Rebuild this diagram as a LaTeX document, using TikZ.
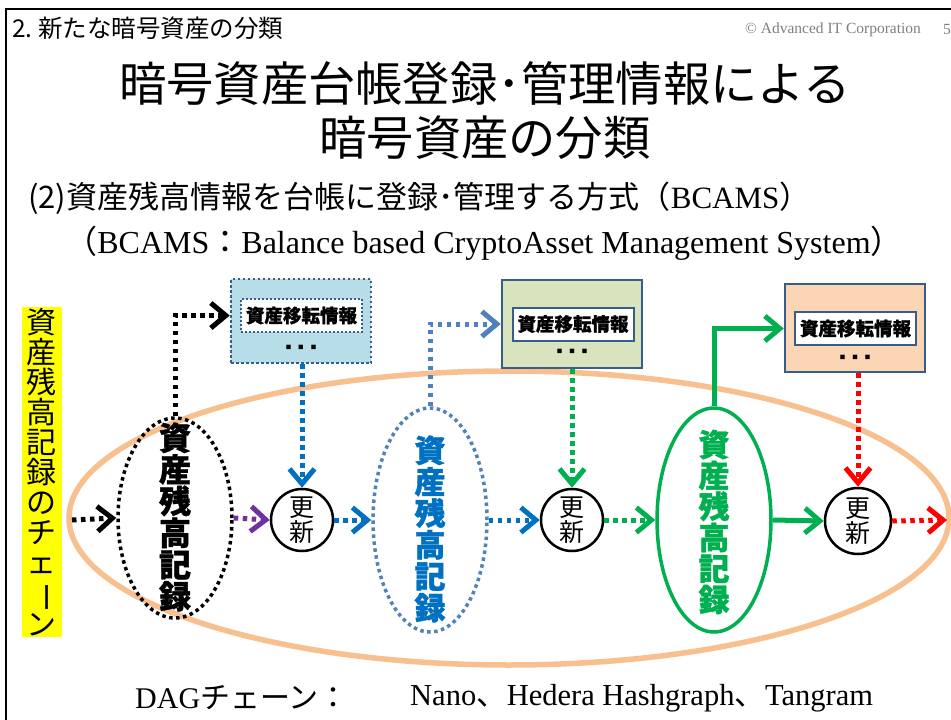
\documentclass[tikz,border=0pt]{standalone}
\usepackage{fontspec}
\setmainfont{Liberation Serif}
\newfontfamily\jp{Noto Sans CJK JP}
\newfontfamily\jpheavy{Noto Sans CJK JP}[BoldFeatures={FakeBold=1.2}]
\usetikzlibrary{arrows.meta,shapes.geometric}

\definecolor{ringorange}{HTML}{F8BF8F}
\definecolor{boxblue}{HTML}{B7DDE8}
\definecolor{boxgreen}{HTML}{D7E4BD}
\definecolor{boxpeach}{HTML}{FCD5B5}
\definecolor{edgeblue}{HTML}{385D8A}
\definecolor{steelblue}{HTML}{4F81BD}
\definecolor{deepblue}{HTML}{0070C0}
\definecolor{okgreen}{HTML}{00B050}
\definecolor{purp}{HTML}{7030A0}
\definecolor{brightred}{HTML}{FF0000}
\definecolor{markyellow}{HTML}{FFFF00}

\newcommand{\vbar}{\rotatebox[origin=c]{-90}{ー}}

\tikzset{
  dotline/.style={line width=5pt, dash pattern=on 4.5pt off 4.5pt},
  solidline/.style={line width=5pt},
  chev/.style={-{Straight Barb[length=15pt,width=25pt]}},
  record/.style={ellipse, line width=3.5pt, minimum width=114pt, inner sep=0pt},
  upd/.style={circle, draw=black, line width=2.5pt, fill=white, minimum size=62pt, inner sep=0pt,
              font=\jp\fontsize{25}{25}\selectfont, align=center},
  infobox/.style={line width=2.5pt, minimum width=140pt, minimum height=86pt, inner sep=0pt},
  infolabel/.style={fill=white, line width=2pt, minimum width=121pt, minimum height=33pt, inner sep=0pt,
                    font=\jpheavy\bfseries\fontsize{18.5}{18.5}\selectfont},
  ellipsis/.style={font=\jp\fontsize{5.5}{5.5}\selectfont, inner sep=0pt},
  vtext/.style={align=center, inner sep=0pt}
}

\begin{document}
\begin{tikzpicture}[x=1pt,y=-1pt]
\useasboundingbox (0,0) rectangle (951,720);
\fill[white] (0,0) rectangle (951,720);

% slide frame
\draw[line width=2.5pt] (6,720) -- (6,9) -- (951,9);

% header
\node[anchor=west, inner sep=0pt] (hdr) at (12,28) {\jp\fontsize{24.5}{24.5}\selectfont 2.\ 新たな暗号資産の分類};
\node[anchor=west, inner sep=0pt, text=gray] (copy) at (745,30) {\fontsize{15.5}{15.5}\selectfont © Advanced IT Corporation};
\node[anchor=west, inner sep=0pt, text=gray] (pg) at (943,30) {\fontsize{15.5}{15.5}\selectfont 5};

% title
\node[inner sep=0pt] (t1) at (485,83) {\jp\fontsize{47.3}{47.3}\selectfont 暗号資産台帳登録･管理情報による};
\node[inner sep=0pt] (t2) at (485,138) {\jp\fontsize{47.3}{47.3}\selectfont 暗号資産の分類};

% subtitle lines
\node[anchor=west, inner sep=0pt] (s1) at (28,198) {\jp\fontsize{31}{31}\selectfont (2)資産残高情報を台帳に登録･管理する方式（\rmfamily BCAMS\jp）};
\node[inner sep=0pt] (s2) at (484,243) {\fontsize{32}{32}\selectfont {\jp（}BCAMS{\jp：}Balance based CryptoAsset Management System{\jp）}};

% chain enclosure
\node[ellipse, draw=ringorange, line width=5.5pt, minimum width=880pt, minimum height=294pt, inner sep=0pt] (ring) at (509,518) {};

% vertical chain label
\node[fill=markyellow, inner sep=0pt, minimum width=40pt, minimum height=330pt, vtext,
      font=\jp\fontsize{30}{30}\selectfont] (chain) at (42,472)
  {資\\産\\残\\高\\記\\録\\の\\チ\\ェ\\\vbar\\ン};

% balance records
\node[record, draw=black, dash pattern=on 3.5pt off 3.5pt, minimum height=200pt] (e1) at (175,518) {};
\node[vtext, font=\jpheavy\bfseries\fontsize{32}{31.7}\selectfont] (e1t) at (175,517) {資\\産\\残\\高\\記\\録};

\node[record, draw=steelblue, dash pattern=on 3.5pt off 3.5pt, minimum height=224pt] (e2) at (430,520) {};
\node[vtext, text=deepblue, font=\jpheavy\bfseries\fontsize{31}{31.5}\selectfont] (e2t) at (430,529) {資\\産\\残\\高\\記\\録};

\node[record, draw=okgreen, minimum height=224pt] (e3) at (714,520) {};
\node[vtext, text=okgreen, font=\jpheavy\bfseries\fontsize{31}{31}\selectfont] (e3t) at (714,522) {資\\産\\残\\高\\記\\録};

% update steps
\node[upd] (c1) at (302,520) {更\\新};
\node[upd] (c2) at (572,520) {更\\新};
\node[upd, minimum size=66pt] (c3) at (858,521) {更\\新};

% transfer information boxes
\node[infobox, draw=edgeblue, dash pattern=on 2.5pt off 2.5pt, fill=boxblue, minimum height=84pt] (b1) at (301,321) {};
\node[infolabel, draw=edgeblue, dash pattern=on 2pt off 2pt] (in1) at (301.5,315.5) {資産移転情報};
\node[ellipsis] (d1) at (301,347) {■\hspace{7pt}■\hspace{7pt}■};

\node[infobox, draw=edgeblue, fill=boxgreen, minimum height=88pt] (b2) at (572,324) {};
\node[infolabel, draw=edgeblue] (in2) at (573,324) {資産移転情報};
\node[ellipsis] (d2) at (572,351) {■\hspace{7pt}■\hspace{7pt}■};

\node[infobox, draw=edgeblue, fill=boxpeach, minimum height=88pt] (b3) at (855,328) {};
\node[infolabel, draw=edgeblue] (in3) at (855.5,328.5) {資産移転情報};
\node[ellipsis] (d3) at (855,357) {■\hspace{7pt}■\hspace{7pt}■};

% connectors
\coordinate (chainstart) at (72,520);
\coordinate (chainend) at (947,520);

\draw[dotline, chev, black] (chainstart) -- (e1.west);
\draw[dotline, chev, black] (e1.north) |- (b1.west |- in1);
\draw[dotline, chev, purp] (e1.east) -- (c1.west);
\draw[dotline, chev, deepblue] (b1.south -| c1) -- (c1.north);
\draw[dotline, chev, deepblue] (c1.east) -- (e2.west);

\draw[dotline, chev, steelblue] (e2.north) |- (b2.west |- in2);
\draw[dotline, chev, deepblue] (e2.east) -- (c2.west);
\draw[dotline, chev, okgreen] (b2.south -| c2) -- (c2.north);
\draw[dotline, chev, okgreen] (c2.east) -- (e3.west);

\draw[solidline, chev, okgreen] (e3.north) |- (b3.west |- in3);
\draw[solidline, chev, okgreen] (e3.east) -- (c3.west);
\draw[dotline, chev, brightred] (b3.south -| c3) -- (c3.north);
\draw[dotline, chev, brightred] (c3.east) -- (chainend);

% examples
\node[anchor=west, inner sep=0pt] (dag) at (135,698) {\fontsize{30}{30}\selectfont DAG{\jp チェーン：}};
\node[anchor=west, inner sep=0pt] (ex) at (410,698) {\fontsize{30.5}{30.5}\selectfont Nano{\jp 、}Hedera Hashgraph{\jp 、}Tangram};
\end{tikzpicture}
\end{document}
